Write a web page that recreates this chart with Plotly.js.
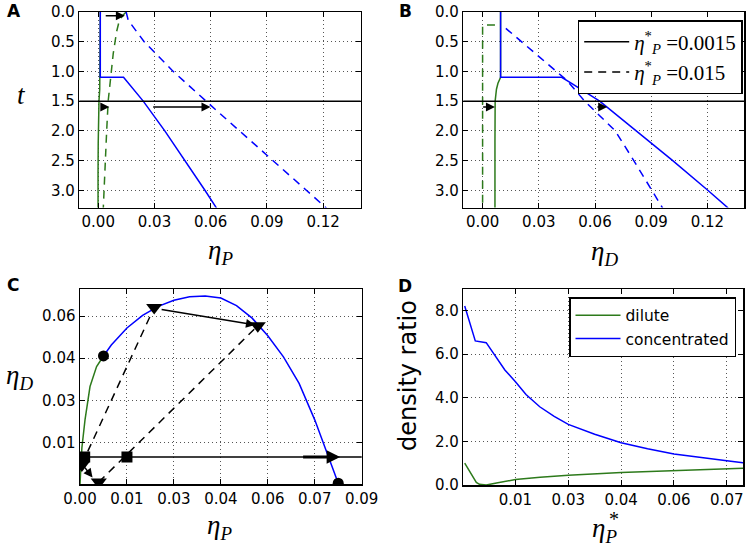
<!DOCTYPE html>
<html><head><meta charset="utf-8">
<script src="https://cdn.plot.ly/plotly-3.0.1.min.js"></script>
<style>body{margin:0;background:#fff}#chart{width:747px;height:547px}</style>
</head><body><div id="chart"></div>
<script>
// ---------- Panel A : eta_P vs t ----------
const tA_dilSolid   = [0, 1.1, 1.3, 1.5, 1.8, 2.2, 2.7, 3.3];
const etaPA_dilSolid= [0.0011, 0.0011, 0.0008, 0.0004, 0.0001, 0.0, -0.0001, -0.0001];
const tA_conSolid   = [0, 1.1, 1.1, 1.5, 2.0, 2.5, 3.0, 3.3];
const etaPA_conSolid= [0.0011, 0.0011, 0.0135, 0.0240, 0.0355, 0.0464, 0.0569, 0.0631];
const tA_dilDash    = [0, 0.05, 0.15, 0.33, 0.7, 1.1, 1.5, 2.0, 2.5, 3.0, 3.3];
const etaPA_dilDash = [0.0149, 0.0133, 0.0112, 0.0098, 0.0080, 0.0068, 0.0053, 0.0045, 0.0038, 0.0031, 0.0027];
const tA_conDash    = [0, 0.14, 0.5, 1.0, 1.5, 2.0, 2.5, 3.0, 3.3];
const etaPA_conDash = [0.0149, 0.0160, 0.0245, 0.0400, 0.0575, 0.0755, 0.0930, 0.1110, 0.1217];
const arrowsA = [[0.0032, 0.062, 0.0142, 0.062], [0.0014, 1.6, 0.0059, 1.6], [0.0285, 1.6, 0.0599, 1.6]];

// ---------- Panel B : eta_D vs t ----------
const tB_dilSolid   = [0, 1.1, 1.2, 1.3, 1.5, 1.8, 2.2, 3.3];
const etaDB_dilSolid= [0.0096, 0.0096, 0.0082, 0.0074, 0.0067, 0.0066, 0.0066, 0.0066];
const tB_conSolid   = [0, 1.1, 1.1, 1.2, 1.5, 2.0, 2.5, 3.0, 3.3];
const etaDB_conSolid= [0.0096, 0.0096, 0.0422, 0.0475, 0.0625, 0.0822, 0.1015, 0.1202, 0.1311];
const tB_dilDash    = [0.22, 0.22, 3.3];
const etaDB_dilDash = [0.0066, 0.0, 0.0];
const tB_conDash    = [0.275, 0.6, 1.145, 1.5, 2.0, 2.5, 3.0, 3.3];
const etaDB_conDash = [0.0124, 0.0245, 0.0448, 0.0545, 0.0708, 0.0807, 0.0904, 0.0961];
const arrowsB = [[-0.0005, 1.6, 0.0066, 1.6], [0.0605, 1.6, 0.0665, 1.6]];
const tSnapshot = 1.5;

// ---------- Panel C : phase diagram ----------
const etaPC_dil = [0.0, 0.0002, 0.0006, 0.0016, 0.0032, 0.0053, 0.0075];
const etaDC_dil = [0.0, 0.006, 0.013, 0.023, 0.0349, 0.042, 0.0458];
const etaPC_con = [0.0075, 0.010, 0.015, 0.020, 0.025, 0.030, 0.035, 0.040, 0.045, 0.050, 0.055, 0.060, 0.065, 0.070, 0.075, 0.080, 0.0825];
const etaDC_con = [0.0458, 0.0497, 0.0558, 0.0603, 0.0635, 0.0657, 0.0669, 0.0672, 0.0665, 0.0638, 0.0593, 0.0530, 0.0455, 0.0360, 0.0230, 0.0082, 0.0004];
const circlesP = [0.0075, 0.0825], circlesD = [0.0458, 0.0004];
const squaresP = [0.0015, 0.015],  squaresD = [0.0097, 0.0097];
const triP = [0.0237, 0.0568, 0.0060, 0.0006], triD = [0.0631, 0.0566, 0.0008, 0.0069];
const tie1P = [0.0006, 0.0237], tie1D = [0.0072, 0.0631];
const tie2P = [0.0060, 0.0568], tie2D = [0.0008, 0.0566];
const etaDStar = 0.0097;
const arrowsC = [[0.0256, 0.0625, 0.0559, 0.0569, 1.5], [0.0012, 0.0065, 0.0040, 0.0024, 1.5], [0.0708, 0.0097, 0.0831, 0.0097, 3]];

// ---------- Panel D : density ratio ----------
const etaStarD_con = [0.0006, 0.0036, 0.0067, 0.009, 0.0105, 0.012, 0.015, 0.018, 0.0219, 0.026, 0.030, 0.0375, 0.045, 0.0525, 0.060, 0.0675, 0.075, 0.0796];
const ratio_con    = [8.21, 6.61, 6.53, 5.98, 5.60, 5.28, 4.74, 4.15, 3.59, 3.15, 2.78, 2.33, 1.94, 1.66, 1.42, 1.25, 1.11, 1.02];
const etaStarD_dil = [0.0006, 0.0039, 0.0048, 0.0067, 0.010, 0.015, 0.022, 0.030, 0.045, 0.060, 0.075, 0.0796];
const ratio_dil    = [1.0, 0.12, 0.03, 0.0, 0.1, 0.25, 0.36, 0.45, 0.57, 0.67, 0.75, 0.77];

const ticksAB_x = [0, 0.03, 0.06, 0.09, 0.12];
const ticksAB_y = [0, 0.5, 1.0, 1.5, 2.0, 2.5, 3.0];
const ticksC_x = [0, 0.015, 0.03, 0.045, 0.06, 0.075, 0.09];
const ticksC_xText = ["0.00", "0.01", "0.03", "0.04", "0.06", "0.07", "0.09"];
const ticksC_y = [0.015, 0.03, 0.045, 0.06];
const ticksC_yText = ["0.01", "0.03", "0.04", "0.06"];
const ticksD_x = [0.015, 0.03, 0.045, 0.06, 0.075];
const ticksD_xText = ["0.01", "0.03", "0.04", "0.06", "0.07"];
const ticksD_y = [0, 2, 4, 6, 8];

// ---------- styling ----------
const BLUE = '#0000ff', GREEN = '#2d7a1b';
const W = 747, H = 547;
const px = v => v / W, py = v => 1 - v / H;
const tickFont = {family: 'DejaVu Sans', size: 15, color: '#000'};
const mathFont = {family: 'Liberation Serif', size: 27, color: '#000'};
const DASH = '8px,6px';

function ax(extra) {
  return Object.assign({
    showline: true, linecolor: '#000', linewidth: 1.5, mirror: 'ticks',
    ticks: 'inside', ticklen: 5, tickwidth: 1, tickcolor: '#000',
    showgrid: true, gridcolor: '#555', griddash: '1px,3px', gridwidth: 1,
    zeroline: false, tickfont: tickFont, fixedrange: true
  }, extra);
}
function line(x, y, xa, ya, color, dash, extra) {
  return Object.assign({x, y, xaxis: xa, yaxis: ya, mode: 'lines', showlegend: false,
    line: {color, width: 1.5, dash: dash || 'solid'}, hoverinfo: 'skip'}, extra || {});
}

const traces = [
  // A
  line(etaPA_dilSolid, tA_dilSolid, 'x', 'y', GREEN),
  line(etaPA_dilDash, tA_dilDash, 'x', 'y', GREEN, DASH),
  line(etaPA_conSolid, tA_conSolid, 'x', 'y', BLUE),
  line(etaPA_conDash, tA_conDash, 'x', 'y', BLUE, DASH),
  // B
  line(etaDB_dilSolid, tB_dilSolid, 'x2', 'y2', GREEN),
  line(etaDB_dilDash, tB_dilDash, 'x2', 'y2', GREEN, DASH),
  line(etaDB_conSolid, tB_conSolid, 'x2', 'y2', BLUE),
  line(etaDB_conDash, tB_conDash, 'x2', 'y2', BLUE, DASH),
  // B legend
  line([null], [null], 'x2', 'y2', '#000', 'solid', {showlegend: true, legend: 'legend',
    name: '<i>η</i><sup>*</sup><sub><i>P</i></sub> =0.0015'}),
  line([null], [null], 'x2', 'y2', '#000', DASH, {showlegend: true, legend: 'legend',
    name: '<i>η</i><sup>*</sup><sub><i>P</i></sub> =0.015'}),
  // C
  line(etaPC_dil, etaDC_dil, 'x3', 'y3', GREEN),
  line(etaPC_con, etaDC_con, 'x3', 'y3', BLUE),
  line(tie1P, tie1D, 'x3', 'y3', '#000', DASH),
  line(tie2P, tie2D, 'x3', 'y3', '#000', DASH),
  {x: circlesP, y: circlesD, xaxis: 'x3', yaxis: 'y3', mode: 'markers', showlegend: false,
   marker: {symbol: 'circle', size: 11, color: '#000'}, hoverinfo: 'skip'},
  {x: squaresP, y: squaresD, xaxis: 'x3', yaxis: 'y3', mode: 'markers', showlegend: false,
   marker: {symbol: 'square', size: 11, color: '#000'}, hoverinfo: 'skip'},
  {x: triP, y: triD, xaxis: 'x3', yaxis: 'y3', mode: 'markers', showlegend: false,
   marker: {symbol: 'triangle-down', size: 14, color: '#000'}, hoverinfo: 'skip'},
  // D
  line(etaStarD_dil, ratio_dil, 'x4', 'y4', GREEN, 'solid', {showlegend: true, legend: 'legend2', name: 'dilute'}),
  line(etaStarD_con, ratio_con, 'x4', 'y4', BLUE, 'solid', {showlegend: true, legend: 'legend2', name: 'concentrated'})
];

function arrow(a, xr, yr, w) {
  return {x: a[2], y: a[3], ax: a[0], ay: a[1], xref: xr, yref: yr, axref: xr, ayref: yr,
    text: '', showarrow: true, arrowhead: 2, arrowsize: w > 2 ? 0.9 : 1.2, arrowwidth: w || 1.5,
    arrowcolor: '#000', standoff: 0, startstandoff: 0};
}
const annotations = [];
arrowsA.forEach(a => annotations.push(arrow(a, 'x', 'y')));
arrowsB.forEach(a => annotations.push(arrow(a, 'x2', 'y2')));
arrowsC.forEach(a => annotations.push(arrow(a, 'x3', 'y3', a[4])));
function label(text, x, y, font, extra) {
  return Object.assign({text, x: px(x), y: py(y), xref: 'paper', yref: 'paper', showarrow: false,
    xanchor: 'center', yanchor: 'middle', font}, extra || {});
}
const panelFont = {family: 'DejaVu Sans', size: 17, color: '#000'};
annotations.push(label('<b>A</b>', 14, 11, panelFont));
annotations.push(label('<b>B</b>', 405, 11, panelFont));
annotations.push(label('<b>C</b>', 13, 285, panelFont));
annotations.push(label('<b>D</b>', 405, 286, panelFont));
annotations.push(label('<i>η</i><sub><i>P</i></sub>', 220, 252, mathFont));
annotations.push(label('<i>η</i><sub><i>D</i></sub>', 604, 253, mathFont));
annotations.push(label('<i>η</i><sub><i>P</i></sub>', 219, 527, mathFont));
annotations.push(label('<i>η</i><sub><i>P</i></sub>', 604, 530, mathFont));
annotations.push(label('*', 614, 519, {family: 'Liberation Serif', size: 20, color: '#000'}));
annotations.push(label('<i>t</i>', 21, 95, mathFont));
annotations.push(label('<i>η</i><sub><i>D</i></sub>', 19, 377, mathFont));
annotations.push(label('density ratio', 408, 376, {family: 'DejaVu Sans', size: 24, color: '#000'}, {textangle: -90}));

const shapes = [
  {type: 'line', xref: 'x domain', yref: 'y', x0: 0, x1: 1, y0: tSnapshot, y1: tSnapshot, line: {color: '#000', width: 1.5}},
  {type: 'line', xref: 'x2 domain', yref: 'y2', x0: 0, x1: 1, y0: tSnapshot, y1: tSnapshot, line: {color: '#000', width: 1.5}},
  {type: 'line', xref: 'x3 domain', yref: 'y3', x0: 0, x1: 1, y0: etaDStar, y1: etaDStar, line: {color: '#000', width: 1.5}}
];

const layout = {
  width: W, height: H, margin: {l: 0, r: 0, t: 0, b: 0}, paper_bgcolor: '#fff', plot_bgcolor: '#fff',
  showlegend: true,
  xaxis:  ax({domain: [px(79.3), px(360.7)], anchor: 'y', range: [-0.0101, 0.14], tickvals: ticksAB_x, tickformat: '.2f'}),
  yaxis:  ax({domain: [py(207.5), py(12)], anchor: 'x', range: [3.29, 0], tickvals: ticksAB_y, tickformat: '.1f'}),
  xaxis2: ax({domain: [px(463.3), px(744.3)], anchor: 'y2', range: [-0.0103, 0.1397], tickvals: ticksAB_x, tickformat: '.2f'}),
  yaxis2: ax({domain: [py(207.5), py(12)], anchor: 'x2', range: [3.29, 0], tickvals: ticksAB_y, tickformat: '.1f'}),
  xaxis3: ax({domain: [px(80), px(361.7)], anchor: 'y3', range: [0, 0.09], tickvals: ticksC_x, ticktext: ticksC_xText}),
  yaxis3: ax({domain: [py(484.3), py(289.3)], anchor: 'x3', range: [0, 0.0696], tickvals: ticksC_y, ticktext: ticksC_yText}),
  xaxis4: ax({domain: [px(463.3), px(743)], anchor: 'y4', range: [0.0002, 0.0796], tickvals: ticksD_x, ticktext: ticksD_xText}),
  yaxis4: ax({domain: [py(485), py(289.3)], anchor: 'x4', range: [0, 8.98], tickvals: ticksD_y, tickformat: '.1f'}),
  legend: {x: px(742.7), xanchor: 'right', y: py(20), yanchor: 'top', bgcolor: '#fff', bordercolor: '#000', borderwidth: 1.5,
    itemwidth: 45, font: {family: 'Liberation Serif', size: 21, color: '#000'}},
  legend2: {x: px(736), xanchor: 'right', y: py(297.3), yanchor: 'top', bgcolor: '#fff', bordercolor: '#000', borderwidth: 1.5,
    itemwidth: 45, font: {family: 'DejaVu Sans', size: 15.5, color: '#000'}},
  annotations, shapes
};
Plotly.newPlot('chart', traces, layout, {staticPlot: true, displayModeBar: false});
</script></body></html>
